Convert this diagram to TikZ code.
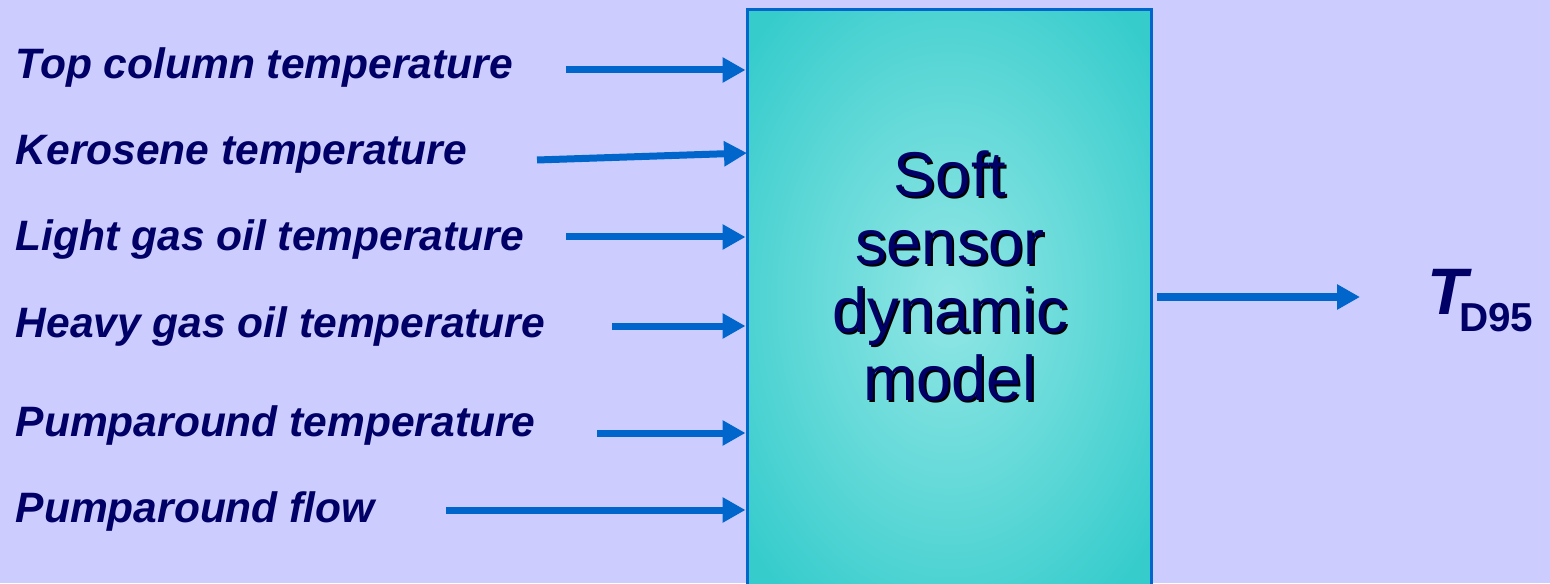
\documentclass[tikz,border=0pt]{standalone}
\usepackage{fontspec}
\setmainfont{Liberation Sans}
\usetikzlibrary{arrows.meta}
\definecolor{bgviolet}{HTML}{CCCCFF}
\definecolor{arrowblue}{HTML}{0066CC}
\definecolor{navy}{HTML}{000066}
\definecolor{glowin}{HTML}{92E7E5}
\definecolor{glowout}{HTML}{36CCCC}
\pgfdeclareradialshading{boxglow}{\pgfpoint{0bp}{0bp}}{color(0bp)=(glowin); color(33bp)=(glowout); color(50bp)=(glowout)}

\begin{document}
\begin{tikzpicture}[x=0.1mm, y=-0.1mm,
  input/.style = {anchor=base west, inner sep=0pt, text=navy, font=\fontsize{12.1}{14}\selectfont\bfseries\itshape},
  feed/.style = {draw=arrowblue, line width=0.7mm, -{Triangle[length=2.3mm,width=2.4mm]}},
  block/.style = {draw=arrowblue, line width=0.3mm, shading=boxglow, minimum width=40.4mm, minimum height=57.6mm, inner sep=0pt},
  mtext/.style = {align=center, inner sep=0pt, font=\fontsize{18}{19.4}\selectfont}]
\useasboundingbox[fill=bgviolet] (0,0) rectangle (1550,583);
\node[block] (model) at (949,298) {};
\node[mtext, text=black] (shadow) at (952,278) {Soft\\sensor\\dynamic\\model};
\node[mtext, text=navy] (label) at (950,276) {Soft\\sensor\\dynamic\\model};
\node[input] (1) at (15,79) {Top column temperature};
\node[input] (2) at (15,165) {Kerosene temperature};
\node[input] (3) at (15,251) {Light gas oil temperature};
\node[input] (4) at (15,337) {Heavy gas oil temperature};
\node[input] (5) at (15,436) {Pumparound temperature};
\node[input] (6) at (15,522) {Pumparound flow};
\node[anchor=base west, inner sep=0pt, text=navy] (td) at (1427,315)
  {{\fontsize{18.7}{20}\selectfont\bfseries\itshape T}\kern-2.5pt\raisebox{-4.8pt}{\fontsize{11.5}{12}\selectfont\bfseries D95}};
\coordinate (s1) at (566,70);
\coordinate (s2) at (537,160);
\coordinate (e2) at (747,153);
\coordinate (s3) at (566,237);
\coordinate (s4) at (612,326);
\coordinate (s5) at (597,433);
\coordinate (s6) at (446,510);
\coordinate (o0) at (1157,297);
\coordinate (o1) at (1360,297);
\draw[feed] (s1) -- (model.west |- s1);
\draw[feed] (s2) -- (e2);
\draw[feed] (s3) -- (model.west |- s3);
\draw[feed] (s4) -- (model.west |- s4);
\draw[feed] (s5) -- (model.west |- s5);
\draw[feed] (s6) -- (model.west |- s6);
\draw[feed] (o0) -- (o1);
\end{tikzpicture}
\end{document}
